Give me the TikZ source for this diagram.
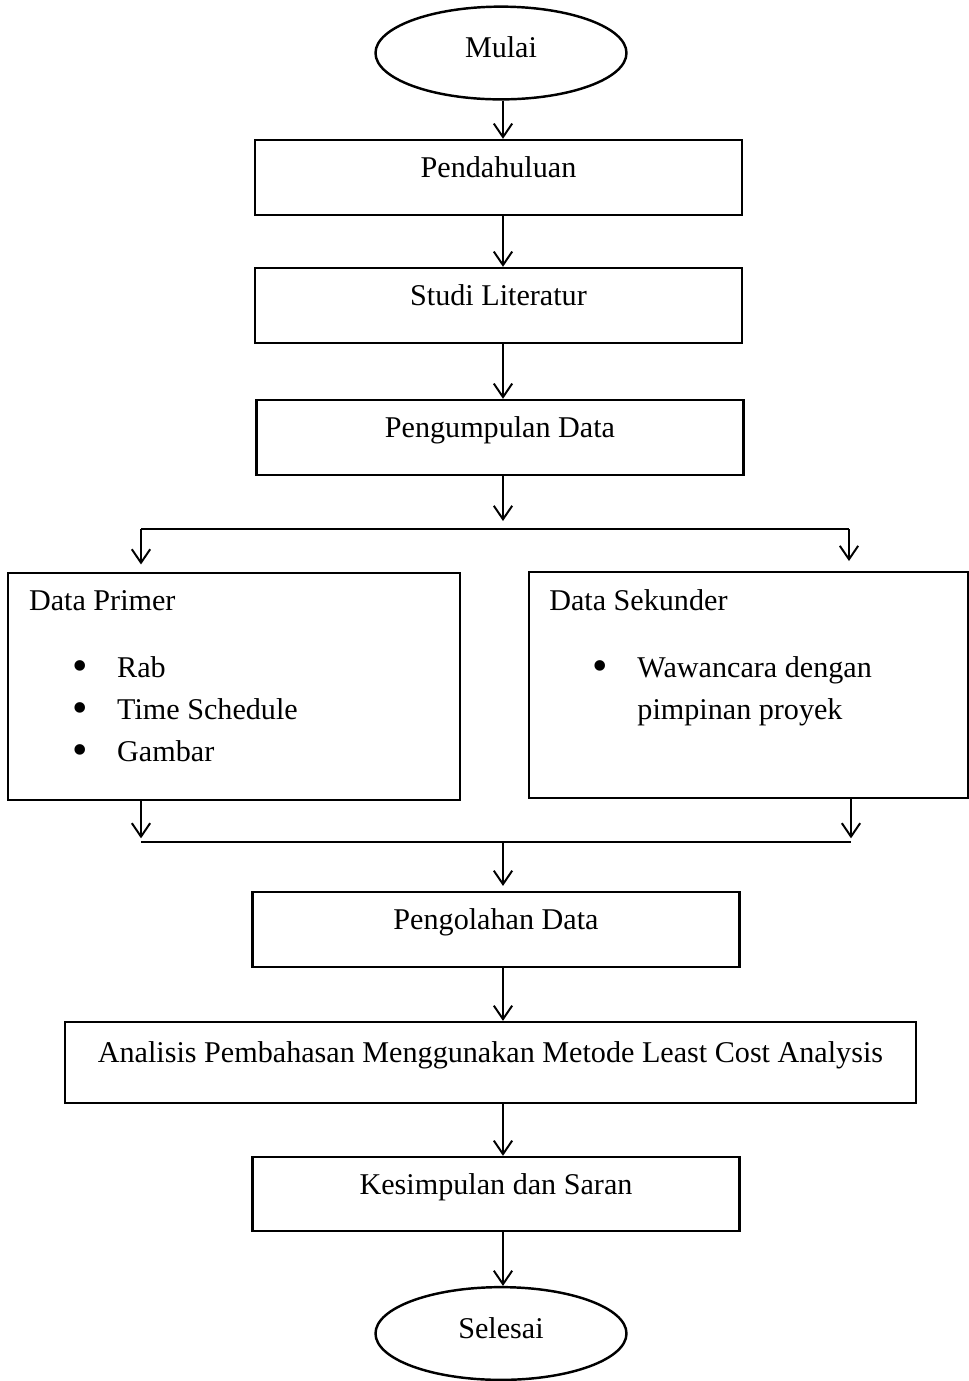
\documentclass[tikz,border=0pt]{standalone}
\usepackage{fontspec}
\setmainfont{Liberation Serif}
\usetikzlibrary{shapes.geometric,arrows.meta}

\newcommand{\butir}{\makebox[36pt][l]{\hspace*{17.6pt}\raisebox{-1.2pt}{\fontsize{18}{18}\selectfont\textbullet}}}

\begin{document}
\begin{tikzpicture}[
    x=0.01434cm, y=-0.01434cm,
    every node/.style={font=\fontsize{12.3}{14}\selectfont},
    terminal/.style={ellipse, draw, line width=1pt, minimum width=3.6cm, minimum height=1.33cm, text height=8pt, text depth=4pt},
    proses/.style={rectangle, draw, line width=1pt, minimum width=6.98cm, minimum height=1.075cm, text height=9pt, text depth=9pt},
    databox/.style={rectangle, draw, line width=1pt, inner ysep=0.25cm},
    arrow/.style={-{Straight Barb[length=5.5pt,width=7.5pt]}, line width=0.8pt},
    garis/.style={line width=0.8pt}
]
    \useasboundingbox (0,0) rectangle (969,1381);
    \coordinate (sumbu) at (503,0);

    \node[terminal] (mulai) at (501,53) {Mulai};
    \node[proses] (pendahuluan) at (498.5,177.5) {Pendahuluan};
    \node[proses] (studi) at (498.5,305.5) {Studi Literatur};
    \node[proses] (kumpul) at (500,437.5) {Pengumpulan Data};

    \node[databox, inner xsep=0.30cm] (primer) at (234,686.5) {%
        \begin{minipage}[t][2.755cm][t]{5.88cm}
            \fontsize{12.3}{17}\selectfont
            Data Primer\\[10.5pt]
            \butir Rab\\
            \butir Time Schedule\\
            \butir Gambar
        \end{minipage}};
    \node[databox, inner xsep=0.29cm] (sekunder) at (748.5,685) {%
        \begin{minipage}[t][2.74cm][t]{5.715cm}
            \fontsize{12.3}{17}\selectfont
            Data Sekunder\\[10.5pt]
            \butir Wawancara dengan\\
            \hspace*{36pt}pimpinan proyek
        \end{minipage}};

    \node[proses] (olah) at (496,929.5) {Pengolahan Data};
    \node[proses, minimum width=12.2cm, minimum height=1.16cm] (analisis) at (490.5,1062.5) {Analisis Pembahasan Menggunakan Metode Least Cost Analysis};
    \node[proses, minimum height=1.06cm] (simpul) at (496,1194) {Kesimpulan dan Saran};
    \node[terminal] (selesai) at (501,1333.5) {Selesai};

    \draw[arrow] (mulai.south -| sumbu) -- (pendahuluan.north -| sumbu);
    \draw[arrow] (pendahuluan.south -| sumbu) -- (studi.north -| sumbu);
    \draw[arrow] (studi.south -| sumbu) -- (kumpul.north -| sumbu);

    \coordinate (cabang) at (503,521);
    \coordinate (cabangkiri) at (141,529);
    \coordinate (cabangkanan) at (849,529);
    \draw[arrow] (kumpul.south -| sumbu) -- (cabang);
    \draw[garis] (cabangkiri) -- (cabangkanan);
    \draw[arrow, shorten >=3pt] (cabangkiri) -- (cabangkiri |- primer.north);
    \draw[arrow, shorten >=4pt] (cabangkanan) -- (cabangkanan |- sekunder.north);

    \coordinate (gabungkiri) at (141,842);
    \coordinate (gabungkanan) at (851,842);
    \coordinate (gabung) at (503,842);
    \draw[arrow, shorten >=1.5pt] (primer.south -| gabungkiri) -- (gabungkiri);
    \draw[arrow, shorten >=1.5pt] (sekunder.south -| gabungkanan) -- (gabungkanan);
    \draw[garis] (gabungkiri) -- (gabungkanan);
    \draw[arrow, shorten >=2pt] (gabung) -- (olah.north -| gabung);

    \draw[arrow] (olah.south -| sumbu) -- (analisis.north -| sumbu);
    \draw[arrow] (analisis.south -| sumbu) -- (simpul.north -| sumbu);
    \draw[arrow] (simpul.south -| sumbu) -- (selesai.north -| sumbu);
\end{tikzpicture}
\end{document}
